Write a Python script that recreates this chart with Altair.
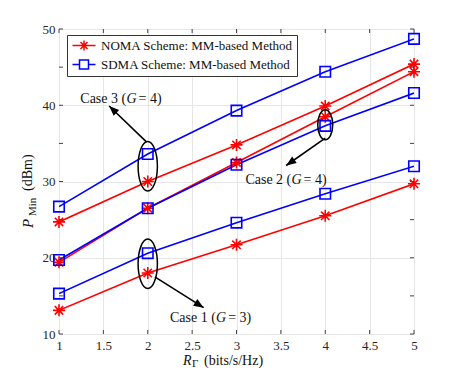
import altair as alt
import pandas as pd

rates = [1, 2, 3, 4, 5]
noma_case1 = [13.1, 18.0, 21.7, 25.5, 29.7]
sdma_case1 = [15.3, 20.6, 24.6, 28.4, 32.0]
noma_case2 = [19.4, 26.5, 32.5, 38.5, 44.4]
sdma_case2 = [19.7, 26.5, 32.2, 37.3, 41.6]
noma_case3 = [24.7, 30.0, 34.8, 39.9, 45.4]
sdma_case3 = [26.7, 33.6, 39.3, 44.4, 48.7]

x_ticks = [1, 1.5, 2, 2.5, 3, 3.5, 4, 4.5, 5]
y_ticks = [10, 15, 20, 25, 30, 35, 40, 45, 50]

NOMA = "NOMA Scheme: MM-based Method"
SDMA = "SDMA Scheme: MM-based Method"
schemes = [NOMA, SDMA]

series = [
    (NOMA, "c1", noma_case1), (SDMA, "c1", sdma_case1),
    (NOMA, "c2", noma_case2), (SDMA, "c2", sdma_case2),
    (NOMA, "c3", noma_case3), (SDMA, "c3", sdma_case3),
]
rows = []
for scheme, case, vals in series:
    for r, v in zip(rates, vals):
        rows.append({"rate": r, "p": v, "scheme": scheme, "case": case})
df = pd.DataFrame(rows)

# annotations
ell_big_x = [2.0, 2.0]
ell_big_y = [32.0, 19.2]
ell_small_x = [4.0]
ell_small_y = [37.45]
arrow_x = [1.985, 4.0, 2.08]
arrow_y = [35.2, 35.7, 17.5]
arrow_x2 = [1.565, 3.56, 2.63]
arrow_y2 = [39.9, 32.1, 13.45]
arrow_angle = [313.4, 235.4, 122.3]
label_x = [1.71, 3.57, 2.72]
label_y = [40.85, 30.25, 12.05]
label_pre = ["Case 3 (", "Case 2 (", "Case 1 ("]
label_post = ["\u00a0=\u00a04)", "\u00a0=\u00a04)", "\u00a0=\u00a03)"]

ell_big = pd.DataFrame({"x": ell_big_x, "y": ell_big_y})
ell_small = pd.DataFrame({"x": ell_small_x, "y": ell_small_y})
arrows = pd.DataFrame({"x": arrow_x, "y": arrow_y, "x2": arrow_x2, "y2": arrow_y2, "angle": arrow_angle})
labels = pd.DataFrame({"x": label_x, "y": label_y, "pre": label_pre, "post": label_post})
xt = pd.DataFrame({"v": x_ticks})
yt = pd.DataFrame({"v": y_ticks})

FONT = "Liberation Serif"
RED, BLUE = "#ff0000", "#0000ff"
ASTER = "M-1,0L1,0M0,-1L0,1M-0.7,-0.7L0.7,0.7M-0.7,0.7L0.7,-0.7"
ASTER_LEG = "M-1,0L3.6,0M1.3,-1L1.3,1M0.6,-0.7L2.0,0.7M0.6,0.7L2.0,-0.7"
SQUARE_LEG = "M-1,0L0.4,0M2.2,0L3.6,0M0.4,-0.9L2.2,-0.9L2.2,0.9L0.4,0.9Z"

W, H = 355, 305
xs = alt.Scale(domain=[1, 5], nice=False)
ys = alt.Scale(domain=[10, 50], nice=False)
color_scale = alt.Scale(domain=schemes, range=[RED, BLUE])
shape_scale = alt.Scale(domain=schemes, range=[ASTER_LEG, SQUARE_LEG])

x_axis = alt.Axis(values=x_ticks, title=None, labelFont=FONT, format="~g",
                  labelFontSize=13, labelColor="#262626", gridColor="#e6e6e6", domain=False,
                  ticks=False, labelPadding=5, labelFlush=False)
y_axis = alt.Axis(values=y_ticks, title=None, labelFont=FONT, format="~g",
                  labelFontSize=13, labelColor="#262626", gridColor="#e6e6e6", domain=False,
                  ticks=False, labelPadding=4)

legend = alt.Legend(
    title=None, orient="none", legendX=8, legendY=6, fillColor="white", strokeColor="#333",
    padding=4, labelFont=FONT, labelFontSize=13, labelColor="#111", symbolSize=100,
    symbolStrokeWidth=1.5, labelOffset=17, rowPadding=3, symbolFillColor="transparent",
    symbolOpacity=1, labelLimit=400,
)

base = alt.Chart(df)
lines = base.mark_line(strokeWidth=1.6, clip=True).encode(
    x=alt.X("rate:Q", scale=xs, axis=x_axis),
    y=alt.Y("p:Q", scale=ys, axis=y_axis),
    color=alt.Color("scheme:N", scale=color_scale, legend=legend),
    detail="case:N",
)
pts_noma = base.transform_filter(alt.datum.scheme == NOMA).mark_point(
    shape=ASTER, filled=False, strokeWidth=1.6, size=144, opacity=1, color=RED).encode(
    x=alt.X("rate:Q", scale=xs), y=alt.Y("p:Q", scale=ys))
pts_sdma = base.transform_filter(alt.datum.scheme == SDMA).mark_point(
    shape="square", filled=False, strokeWidth=1.6, size=110, opacity=1, color=BLUE).encode(
    x=alt.X("rate:Q", scale=xs), y=alt.Y("p:Q", scale=ys))
# legend-only layer (no rows drawn, legend built from the scale domain)
leg_layer = base.transform_filter("false").mark_point(filled=False, strokeWidth=1.5, opacity=1).encode(
    x=alt.X("rate:Q", scale=xs), y=alt.Y("p:Q", scale=ys),
    color=alt.Color("scheme:N", scale=color_scale, legend=legend),
    shape=alt.Shape("scheme:N", scale=shape_scale, legend=legend),
)

# inward ticks on all four sides
tk = dict(color="#444", strokeWidth=1)
xt_b = alt.Chart(xt).mark_rule(**tk).encode(x=alt.X("v:Q", scale=xs), y=alt.value(H), y2=alt.value(H - 4))
xt_t = alt.Chart(xt).mark_rule(**tk).encode(x=alt.X("v:Q", scale=xs), y=alt.value(0), y2=alt.value(4))
yt_l = alt.Chart(yt).mark_rule(**tk).encode(y=alt.Y("v:Q", scale=ys), x=alt.value(0), x2=alt.value(4))
yt_r = alt.Chart(yt).mark_rule(**tk).encode(y=alt.Y("v:Q", scale=ys), x=alt.value(W), x2=alt.value(W - 4))

ELL_BIG = "M0,-1C0.215,-1 0.39,-0.552 0.39,0C0.39,0.552 0.215,1 0,1C-0.215,1 -0.39,0.552 -0.39,0C-0.39,-0.552 -0.215,-1 0,-1Z"
ELL_SMALL = "M0,-1C0.276,-1 0.5,-0.552 0.5,0C0.5,0.552 0.276,1 0,1C-0.276,1 -0.5,0.552 -0.5,0C-0.5,-0.552 -0.276,-1 0,-1Z"

e1 = alt.Chart(ell_big).mark_point(shape=ELL_BIG, size=2450, filled=False, color="black",
                                    strokeWidth=1.5, opacity=1).encode(
    x=alt.X("x:Q", scale=xs), y=alt.Y("y:Q", scale=ys))
e2 = alt.Chart(ell_small).mark_point(shape=ELL_SMALL, size=900, filled=False, color="black",
                                      strokeWidth=1.5, opacity=1).encode(
    x=alt.X("x:Q", scale=xs), y=alt.Y("y:Q", scale=ys))

arr_line = alt.Chart(arrows).mark_rule(color="black", strokeWidth=1.6).encode(
    x=alt.X("x:Q", scale=xs), y=alt.Y("y:Q", scale=ys), x2="x2:Q", y2="y2:Q")
arr_head = alt.Chart(arrows).mark_point(shape="M0,0L-0.4,1L0.4,1Z", size=400, filled=True,
                                         color="black", opacity=1).encode(
    x=alt.X("x2:Q", scale=xs), y=alt.Y("y2:Q", scale=ys), angle=alt.Angle("angle:Q", scale=None))

AFS = 14
lab_pre = alt.Chart(labels).mark_text(font=FONT, fontSize=AFS, align="right", baseline="middle",
                                       dx=4.2, color="#111").encode(
    x=alt.X("x:Q", scale=xs), y=alt.Y("y:Q", scale=ys), text="pre:N")
lab_g = alt.Chart(labels).mark_text(font=FONT, fontSize=AFS, fontStyle="italic", align="center",
                                     baseline="middle", dx=9.5, color="#111").encode(
    x=alt.X("x:Q", scale=xs), y=alt.Y("y:Q", scale=ys), text=alt.value("G"))
lab_post = alt.Chart(labels).mark_text(font=FONT, fontSize=AFS, align="left", baseline="middle",
                                        dx=16.5, color="#111").encode(
    x=alt.X("x:Q", scale=xs), y=alt.Y("y:Q", scale=ys), text="post:N")

# axis titles with subscripts
def title_text(txt, x, y, size, italic=False, angle=0):
    kw = dict(font=FONT, fontSize=size, align="left", baseline="alphabetic", color="#111")
    if italic:
        kw["fontStyle"] = "italic"
    if angle:
        kw["angle"] = angle
    return alt.Chart(pd.DataFrame({"t": [txt]})).mark_text(**kw).encode(
        x=alt.value(x), y=alt.value(y), text="t:N")

titles = [
    title_text("R", 124, 335.5, 14, italic=True),
    title_text("Γ", 133, 338, 11),
    title_text("(bits/s/Hz)", 145, 335.5, 14),
    title_text("P", -26, 199, 15, italic=True, angle=270),
    title_text("Min", -23.5, 187, 11, angle=270),
    title_text("(dBm)", -27, 162, 14, angle=270),
]

chart = alt.layer(lines, pts_noma, pts_sdma, leg_layer, xt_b, xt_t, yt_l, yt_r, e1, e2,
                  arr_line, arr_head, lab_pre, lab_g, lab_post, *titles).properties(
    width=W, height=H,
    autosize=alt.AutoSizeParams(type="none"),
    padding={"left": 51, "top": 21, "right": 36, "bottom": 34},
).configure_view(stroke="#444", strokeWidth=1).configure_axis(
    labelFont=FONT, labelFontSize=13
).configure_text(font=FONT).configure(background="white", font=FONT)

chart.save("out.html", embed_options={"renderer": "svg", "actions": False})
